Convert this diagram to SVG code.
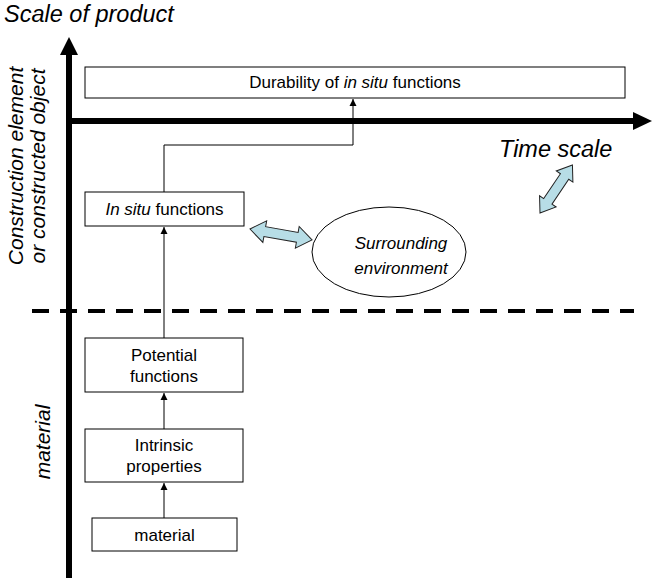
<svg xmlns="http://www.w3.org/2000/svg" width="653" height="580" viewBox="0 0 653 580">
<defs>
<style>
text{font-family:"Liberation Sans",Arial,sans-serif;fill:#000}
.lbl{font-size:23.5px;font-style:italic}
.rl{font-size:21px;font-style:italic;text-anchor:middle}
.box{fill:#fff;stroke:#000;stroke-width:1}
.bt{font-size:17px;text-anchor:middle}
.et{font-size:17px;font-style:italic;text-anchor:middle}
.conn{fill:none;stroke:#000;stroke-width:1}
.dbl{fill:#b7dde6;stroke:#222;stroke-width:1}
</style>
<marker id="ah" markerWidth="8" markerHeight="8" refX="7" refY="4" orient="auto" markerUnits="userSpaceOnUse">
<path d="M0,0.5 L7,4 L0,7.5 Z" fill="#000"/>
</marker>
</defs>
<rect width="653" height="580" fill="#fff"/>

<g id="axes">
<line x1="69" y1="578" x2="69" y2="54" stroke="#000" stroke-width="6"/>
<polygon points="60,55 78,55 69,37" fill="#000"/>
<line x1="66" y1="121" x2="634" y2="121" stroke="#000" stroke-width="6"/>
<polygon points="633,112 633,130 652,121" fill="#000"/>
<line x1="32" y1="311" x2="634" y2="311" stroke="#000" stroke-width="4" stroke-dasharray="17 11"/>
</g>

<g id="labels">
<text class="lbl" x="4" y="22">Scale of product</text>
<text class="lbl" x="499" y="157">Time scale</text>
<text class="rl" transform="translate(23,166) rotate(-90)">Construction element</text>
<text class="rl" transform="translate(45,166) rotate(-90)">or constructed object</text>
<text class="rl" transform="translate(50,442) rotate(-90)">material</text>
</g>

<g id="connectors">
<line class="conn" x1="164" y1="518" x2="164" y2="483" marker-end="url(#ah)"/>
<line class="conn" x1="164" y1="429" x2="164" y2="393" marker-end="url(#ah)"/>
<line class="conn" x1="164" y1="338" x2="164" y2="227" marker-end="url(#ah)"/>
<path class="conn" d="M164,192 V145 H353 V99" marker-end="url(#ah)"/>
<polygon class="dbl" transform="translate(250,229) rotate(10)" points="0,0 15,-11 15,-5 48,-5 48,-11 63,0 48,11 48,5 15,5 15,11"/>
<polygon class="dbl" transform="translate(540,213) rotate(-56)" points="0,0 14,-10 14,-5 44,-5 44,-10 58,0 44,10 44,5 14,5 14,10"/>
</g>

<g id="n-durability">
<rect class="box" x="85" y="67" width="540" height="31"/>
<text class="bt" x="355" y="88">Durability of <tspan font-style="italic">in situ</tspan> functions</text>
</g>
<g id="n-insitu">
<rect class="box" x="85" y="192" width="159" height="34"/>
<text class="bt" x="164.5" y="215"><tspan font-style="italic">In situ</tspan> functions</text>
</g>
<g id="n-env">
<ellipse cx="389" cy="252" rx="77" ry="45" fill="#fff" stroke="#000" stroke-width="1"/>
<text class="et" x="401" y="249">Surrounding</text>
<text class="et" x="401" y="274">environment</text>
</g>
<g id="n-potential">
<rect class="box" x="85" y="338" width="158" height="54"/>
<text class="bt" x="164" y="361">Potential</text>
<text class="bt" x="164" y="382">functions</text>
</g>
<g id="n-intrinsic">
<rect class="box" x="85" y="429" width="158" height="53"/>
<text class="bt" x="164" y="451">Intrinsic</text>
<text class="bt" x="164" y="472">properties</text>
</g>
<g id="n-material">
<rect class="box" x="92" y="518" width="145" height="33"/>
<text class="bt" x="164.5" y="541">material</text>
</g>
</svg>
